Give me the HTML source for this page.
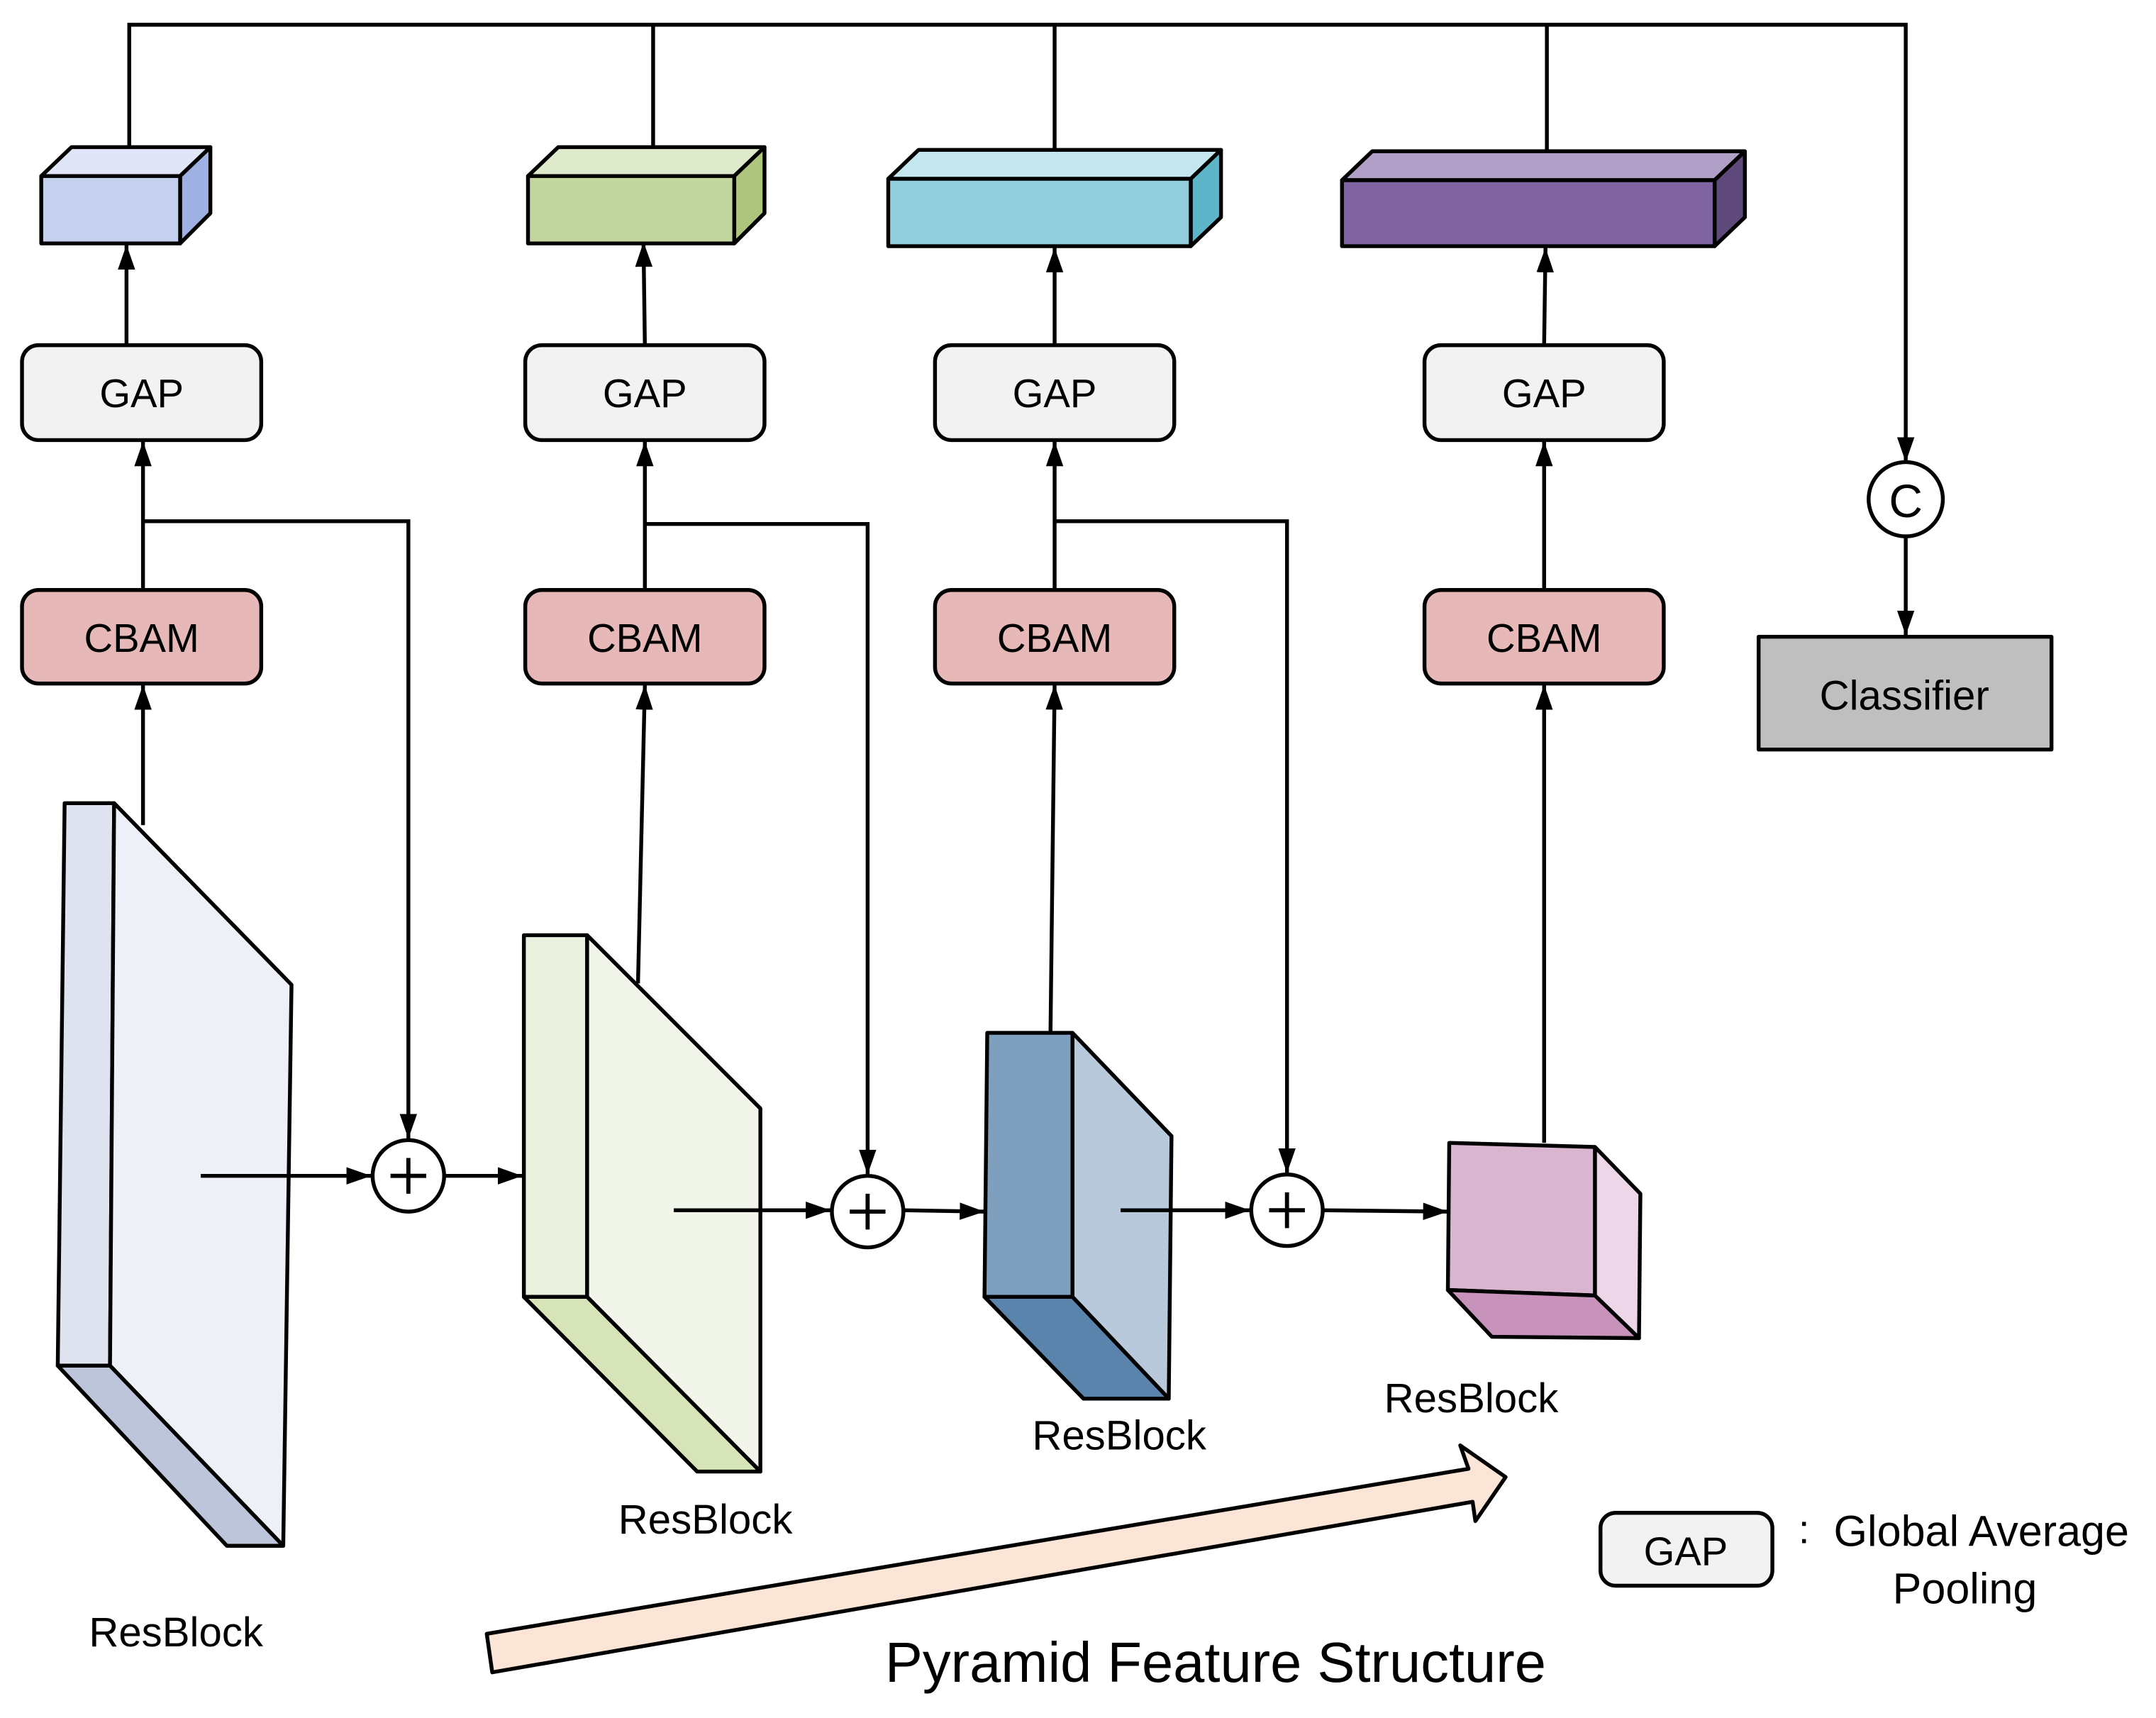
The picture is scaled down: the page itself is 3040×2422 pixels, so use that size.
<!DOCTYPE html>
<html><head><meta charset="utf-8"><style>html,body{margin:0;padding:0;background:#fff}svg{display:block}</style></head>
<body>
<svg width="3040" height="2422" viewBox="0 0 1568 1249.2" preserveAspectRatio="none" xmlns="http://www.w3.org/2000/svg" font-family="'Liberation Sans', sans-serif">
<defs>
<marker id="b" viewBox="0 0 10 10" markerWidth="18" markerHeight="18" refX="10" refY="5" orient="auto" markerUnits="userSpaceOnUse"><path d="M0,1.5 L10,5 L0,8.5 Z" fill="#000"/></marker></defs>
<g stroke="#000" stroke-width="2.8" fill="none">
<polyline points="94,107 94,18 1386,18 1386,336" marker-end="url(#b)"/>
<line x1="475" y1="18" x2="475" y2="107"/>
<line x1="767" y1="18" x2="767" y2="109"/>
<line x1="1125" y1="18" x2="1125" y2="110"/>
</g>
<g stroke="#000" stroke-width="2.8" stroke-linejoin="round">
<polygon points="30,128 52,107 153,107 131,128" fill="#e0e5f7"/><polygon points="131,128 153,107 153,155 131,177" fill="#9fb1e2"/><rect x="30" y="128" width="101" height="49" fill="#c5cfee"/>
<polygon points="384,128 406,107 556,107 534,128" fill="#dfe9cc"/><polygon points="534,128 556,107 556,155 534,177" fill="#adc57c"/><rect x="384" y="128" width="150" height="49" fill="#c4d69f"/>
<polygon points="646,130 668,109 888,109 866,130" fill="#c3e6ef"/><polygon points="866,130 888,109 888,158 866,179" fill="#5eb4c9"/><rect x="646" y="130" width="220" height="49" fill="#92cddc"/>
<polygon points="976,131 998,110 1269,110 1247,131" fill="#b0a0c8"/><polygon points="1247,131 1269,110 1269,158 1247,179" fill="#5f497a"/><rect x="976" y="131" width="271" height="48" fill="#8064a2"/>
<rect x="16" y="251" width="174" height="69" rx="12" fill="#f2f2f2"/>
<rect x="382" y="251" width="174" height="69" rx="12" fill="#f2f2f2"/>
<rect x="680" y="251" width="174" height="69" rx="12" fill="#f2f2f2"/>
<rect x="1036" y="251" width="174" height="69" rx="12" fill="#f2f2f2"/>
<rect x="16" y="429" width="174" height="68" rx="12" fill="#e6b9b8"/>
<rect x="382" y="429" width="174" height="68" rx="12" fill="#e6b9b8"/>
<rect x="680" y="429" width="174" height="68" rx="12" fill="#e6b9b8"/>
<rect x="1036" y="429" width="174" height="68" rx="12" fill="#e6b9b8"/>
<rect x="1279" y="463" width="213" height="82" fill="#bfbfbf"/>
<circle cx="1386" cy="363" r="27" fill="#fff"/>
<polygon points="47,584 83,584 80,993 42,993" fill="#dee3ef"/>
<polygon points="83,584 212,716 206,1124 80,993" fill="#eef0f7"/>
<polygon points="42,993 80,993 206,1124 165,1124" fill="#bcc5da"/>
<polygon points="381,680 427,680 427,943 381,943" fill="#e9f0de"/>
<polygon points="427,680 553,806 553,1070 427,943" fill="#f2f6ea"/>
<polygon points="381,943 427,943 553,1070 507,1070" fill="#d7e4b8"/>
<polygon points="718,751 780,751 780,943 716,943" fill="#7f9fbf"/>
<polygon points="780,751 852,826 850,1017 780,943" fill="#b8c9db"/>
<polygon points="716,943 780,943 850,1017 788,1017" fill="#5a84ab"/>
<polygon points="1054,831 1160,834 1160,942 1053,938" fill="#dab5d0"/>
<polygon points="1160,834 1193,868 1192,973 1160,942" fill="#ecd6e7"/>
<polygon points="1053,938 1160,942 1192,973 1085,972" fill="#c893bb"/>
<polygon points="354,1188 1068,1068 1062,1051 1095,1074 1073,1106 1071,1092 358,1216" fill="#fbe5d6"/>
<rect x="1164" y="1100" width="125" height="53" rx="11" fill="#f2f2f2"/>
</g>
<g stroke="#000" stroke-width="2.8" fill="none">
<line x1="104" y1="600" x2="104" y2="498" marker-end="url(#b)"/>
<line x1="104" y1="429" x2="104" y2="321" marker-end="url(#b)"/>
<line x1="92" y1="251" x2="92" y2="178" marker-end="url(#b)"/>
<line x1="464" y1="715" x2="469" y2="498" marker-end="url(#b)"/>
<line x1="469" y1="429" x2="469" y2="321" marker-end="url(#b)"/>
<line x1="469" y1="251" x2="468" y2="176" marker-end="url(#b)"/>
<line x1="764" y1="751" x2="767" y2="498" marker-end="url(#b)"/>
<line x1="767" y1="429" x2="767" y2="321" marker-end="url(#b)"/>
<line x1="767" y1="251" x2="767" y2="180" marker-end="url(#b)"/>
<line x1="1123" y1="831" x2="1123" y2="498" marker-end="url(#b)"/>
<line x1="1123" y1="429" x2="1123" y2="321" marker-end="url(#b)"/>
<line x1="1123" y1="251" x2="1124" y2="180" marker-end="url(#b)"/>
<line x1="1386" y1="390" x2="1386" y2="462" marker-end="url(#b)"/>
<polyline points="104,379 297,379 297,828" marker-end="url(#b)"/>
<polyline points="469,381 631,381 631,854" marker-end="url(#b)"/>
<polyline points="767,379 936,379 936,853" marker-end="url(#b)"/>
<line x1="146" y1="855" x2="270" y2="855" marker-end="url(#b)"/>
<line x1="323" y1="855" x2="380" y2="855" marker-end="url(#b)"/>
<line x1="490" y1="880" x2="604" y2="880" marker-end="url(#b)"/>
<line x1="657" y1="880" x2="716" y2="881" marker-end="url(#b)"/>
<line x1="815" y1="880" x2="909" y2="880" marker-end="url(#b)"/>
<line x1="962" y1="880" x2="1053" y2="881" marker-end="url(#b)"/>
</g>
<g stroke="#000" stroke-width="2.8" fill="#fff">
<circle cx="297" cy="855" r="26"/><circle cx="631" cy="881" r="26"/><circle cx="936" cy="880" r="26"/>
</g>
<g stroke="#000" stroke-width="3">
<line x1="284" y1="855" x2="310" y2="855"/><line x1="297" y1="842" x2="297" y2="868"/>
<line x1="618" y1="881" x2="644" y2="881"/><line x1="631" y1="868" x2="631" y2="894"/>
<line x1="923" y1="880" x2="949" y2="880"/><line x1="936" y1="867" x2="936" y2="893"/>
</g>
<g font-size="29" text-anchor="middle" fill="#000">
<text x="103" y="296">GAP</text><text x="469" y="296">GAP</text><text x="767" y="296">GAP</text><text x="1123" y="296">GAP</text>
<text x="103" y="474">CBAM</text><text x="469" y="474">CBAM</text><text x="767" y="474">CBAM</text><text x="1123" y="474">CBAM</text>
<text x="1385" y="516" font-size="30">Classifier</text>
<text x="1386" y="376" font-size="34">C</text>
<text x="128" y="1197" font-size="30">ResBlock</text><text x="513" y="1115" font-size="30">ResBlock</text><text x="814" y="1054" font-size="30">ResBlock</text><text x="1070" y="1027" font-size="30">ResBlock</text>
<text x="1226" y="1138">GAP</text>
<text x="1312" y="1122">:</text>
<text x="1441" y="1124" font-size="31.5">Global Average</text>
<text x="1429" y="1166" font-size="31.5">Pooling</text>
<text x="884" y="1223" font-size="41">Pyramid Feature Structure</text>
</g>
</svg>
</body></html>
